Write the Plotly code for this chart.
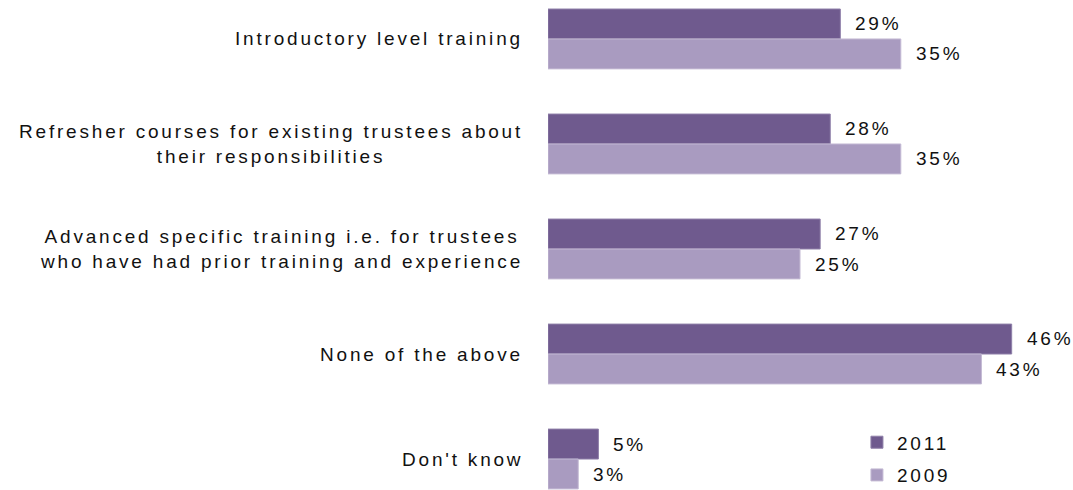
import plotly.graph_objects as go

categories = [
    "Introductory level training",
    "Refresher courses for existing trustees about<br>their responsibilities",
    "Advanced specific training i.e. for trustees<br>who have had prior training and experience",
    "None of the above",
    "Don't know",
]
values_2011 = [29, 28, 27, 46, 5]
values_2009 = [35, 35, 25, 43, 3]
series_names = ["2011", "2009"]

dark = "#6F5A8E"
light = "#A99BC0"
font_family = "Liberation Sans, Arial, sans-serif"
SPACING = "2.8px"


def spaced(text):
    """Wrap each line in a span with widened letter spacing."""
    lines = text.split("<br>")
    return "<br>".join(
        f'<span style="letter-spacing:{SPACING}">{line}</span>' for line in lines
    )


idx = list(range(len(categories)))

fig = go.Figure()
fig.add_trace(go.Bar(
    y=idx, x=values_2011, orientation="h", name=spaced(series_names[0]),
    marker=dict(color=dark, line=dict(color="#8E7FA8", width=1)),
    offsetgroup="a", legendgroup="a",
))
fig.add_trace(go.Bar(
    y=idx, x=values_2009, orientation="h", name=spaced(series_names[1]),
    marker=dict(color=light, line=dict(color="#C4BAD4", width=1)),
    offsetgroup="b", legendgroup="b",
))

text_font = dict(family=font_family, size=19, color="#111111")
annotations = []
# category labels, centred multi-line text right-aligned against the axis
for i, cat in enumerate(categories):
    annotations.append(dict(
        x=0, xref="paper", y=i, yref="y", text=spaced(cat), showarrow=False,
        xanchor="right", yanchor="middle", align="center", xshift=-23,
        font=text_font,
    ))

# value labels just past the end of each bar
bar_offset = 0.143
for i, (a, b) in enumerate(zip(values_2011, values_2009)):
    annotations.append(dict(
        x=a, y=i - bar_offset, xref="x", yref="y", text=spaced(f"{a}%"),
        showarrow=False, xanchor="left", yanchor="middle", xshift=13,
        font=text_font,
    ))
    annotations.append(dict(
        x=b, y=i + bar_offset, xref="x", yref="y", text=spaced(f"{b}%"),
        showarrow=False, xanchor="left", yanchor="middle", xshift=13,
        font=text_font,
    ))

fig.update_layout(
    width=1073, height=490,
    margin=dict(l=548, r=21, t=0, b=0, autoexpand=False),
    paper_bgcolor="white", plot_bgcolor="white",
    barmode="group", bargap=0.43, bargroupgap=0,
    xaxis=dict(range=[0, 50], visible=False, fixedrange=True),
    yaxis=dict(range=[4.295, -0.371], visible=False, fixedrange=True),
    annotations=annotations,
    legend=dict(
        x=0.613, xanchor="left", y=0.136, yanchor="top",
        font=text_font,
        bgcolor="rgba(0,0,0,0)", itemwidth=30, tracegroupgap=5,
    ),
    showlegend=True,
)

fig.write_html("out.html")
